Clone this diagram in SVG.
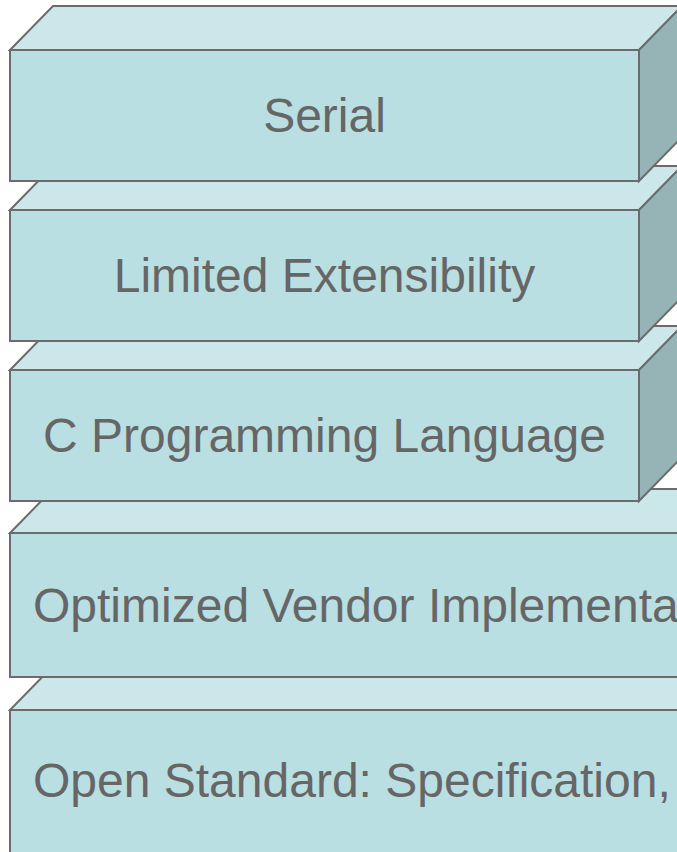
<svg xmlns="http://www.w3.org/2000/svg" width="677" height="852" viewBox="0 0 677 852">
<style>
.front{fill:#b9dfe3;stroke:#6b6b6b;stroke-width:2;stroke-linejoin:miter}
.top{fill:#cbe7ea;stroke:#6b6b6b;stroke-width:2;stroke-linejoin:miter}
.side{fill:#96b3b6;stroke:#6b6b6b;stroke-width:2;stroke-linejoin:miter}
.lbl{font-family:"Liberation Sans",Arial,sans-serif;font-size:48px;fill:#666666}
.c{text-anchor:middle}
</style>
<rect width="677" height="852" fill="#ffffff"/>
<g id="box5">
<polygon class="top" points="10,710 53,666 853,666 810,710"/>
<polygon class="side" points="810,710 853,666 853,816 810,860"/>
<rect class="front" x="10" y="710" width="800" height="150"/>
<text class="lbl" x="33" y="797">Open Standard: Specification,</text>
</g>
<g id="box4">
<polygon class="top" points="10,533 53,489 853,489 810,533"/>
<polygon class="side" points="810,533 853,489 853,633 810,677"/>
<rect class="front" x="10" y="533" width="800" height="144"/>
<text class="lbl" x="33" y="622">Optimized Vendor Implementation</text>
</g>
<g id="box3">
<polygon class="top" points="10,370 53,326 682,326 639,370"/>
<polygon class="side" points="639,370 682,326 682,457 639,501"/>
<rect class="front" x="10" y="370" width="629" height="131"/>
<text class="lbl c" x="324.5" y="452">C Programming Language</text>
</g>
<g id="box2">
<polygon class="top" points="10,210 53,166 682,166 639,210"/>
<polygon class="side" points="639,210 682,166 682,297 639,341"/>
<rect class="front" x="10" y="210" width="629" height="131"/>
<text class="lbl c" x="324.5" y="292">Limited Extensibility</text>
</g>
<g id="box1">
<polygon class="top" points="10,50 53,6 682,6 639,50"/>
<polygon class="side" points="639,50 682,6 682,137 639,181"/>
<rect class="front" x="10" y="50" width="629" height="131"/>
<text class="lbl c" x="324.5" y="132">Serial</text>
</g>
<g id="connectors"/>
</svg>
